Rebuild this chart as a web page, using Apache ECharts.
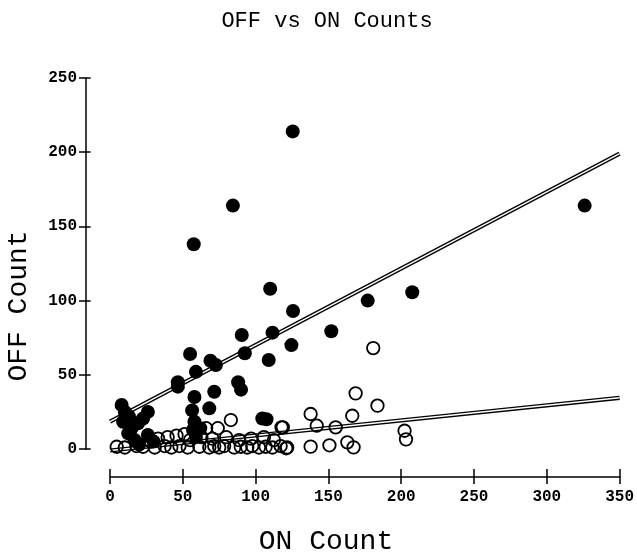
<!DOCTYPE html>
<html>
<head>
<meta charset="utf-8">
<script src="https://cdn.jsdelivr.net/npm/echarts@6/dist/echarts.min.js"></script>
<style>
    html, body {margin: 0; padding: 0; background: #fff;}
    #scatter_main {width: 637px; height: 552px;}
</style>
</head>
<body>
<div id="scatter_main"></div>
<script>
// ON count, OFF count  (filled dots)
var filledPts = [
    [125.5, 214], [84.4, 164], [57.5, 138], [326, 164], [110, 108], [207.6, 105.6],
    [177, 100], [125.7, 93], [152, 79.3], [111.6, 78.4], [90.5, 76.8], [124.6, 70],
    [92.6, 64.5], [55, 64], [109, 60], [69, 59.5], [72.7, 56.6], [59, 52], [88, 45],
    [90, 40], [46.6, 45], [46.6, 42], [71.6, 38.6], [58, 35], [56.4, 26], [68.2, 27.4],
    [58, 18.4], [104.6, 20.6], [107.5, 20], [8, 29.6], [10.2, 25], [26, 25], [22.7, 20.6],
    [19.3, 17.3], [14.8, 14], [12.5, 10.5], [26, 9.4], [17, 6], [9, 18.4], [57, 12.8],
    [59, 8.3], [13, 22], [20, 3], [30, 5], [62, 14]
];
// open circles
var openPts = [
    [180.8, 68], [168.7, 37.5], [183.7, 29.2], [137.8, 23.6], [166.4, 22.4], [142, 15.7],
    [155, 14.6], [118.7, 14.6], [202.3, 12.3], [203.3, 6.5], [121, 0.5], [137.8, 1.6],
    [150.7, 2.5], [163, 4.5], [167.3, 1.1],
    [83, 19.5], [74, 14], [66, 14], [117.8, 14.6],
    [4.6, 1.5], [10.2, 1], [18.2, 2], [22.7, 1.5], [30.7, 1], [37.5, 2], [42.1, 1],
    [47.7, 2], [53.4, 1], [61.4, 1.5], [68.2, 1], [71.6, 2], [75, 1], [78.4, 2],
    [85.3, 1], [89.8, 1.5], [94.3, 1], [97.7, 2], [102.3, 1], [106.9, 1.5], [111.5, 1],
    [117.2, 2], [121.7, 1],
    [39.6, 8], [45.7, 9], [51.2, 10], [62.8, 8], [70.3, 7], [79.8, 8], [88.7, 6],
    [96.9, 7], [105.7, 8], [112.6, 6], [28, 5], [33, 7], [55, 6]
];
// fitted lines, end points
var upperFit = [[0, 18.5], [350, 199]];
var lowerFit = [[0, -1], [350, 34.5]];

var xMax = 350;
var yMax = 250;
var tickStep = 50;

var W = 637, H = 552;
var gridL = 110, gridR = 15, gridT = 78, gridB = 103;
var xOff = 28, yOff = 24;

function tick_style() {
    return {color: '#000', width: 1.5};
}

// main x axis (ticks pointing down)
function make_x() {
    return {
        type: 'value', min: 0, max: xMax, interval: tickStep,
        position: 'bottom', offset: xOff,
        axisLine: {onZero: false, lineStyle: tick_style()},
        axisTick: {inside: false, length: 7, lineStyle: tick_style()},
        axisLabel: {margin: 12, color: '#000', fontFamily: 'Liberation Mono',
            fontWeight: 'bold', fontSize: 16},
        splitLine: {show: false}
    };
}

// a top axis pulled down onto the bottom one, its outward ticks give the upper half of the cross
function make_x_up() {
    var h = H - gridT - gridB;
    return {
        type: 'value', min: 0, max: xMax, interval: tickStep,
        position: 'top', offset: -(h + xOff),
        axisLine: {show: false, onZero: false},
        axisTick: {show: true, inside: false, length: 8, lineStyle: tick_style()},
        axisLabel: {show: false},
        splitLine: {show: false}
    };
}

function make_y() {
    return {
        type: 'value', min: 0, max: yMax, interval: tickStep,
        position: 'left', offset: yOff,
        axisLine: {onZero: false, lineStyle: tick_style()},
        axisTick: {inside: false, length: 7, lineStyle: tick_style()},
        axisLabel: {margin: 9, color: '#000', fontFamily: 'Liberation Mono',
            fontWeight: 'bold', fontSize: 16},
        splitLine: {show: false}
    };
}

// same trick for the right half of the y ticks
function make_y_right() {
    var w = W - gridL - gridR;
    return {
        type: 'value', min: 0, max: yMax, interval: tickStep,
        position: 'right', offset: -(w + yOff),
        axisLine: {show: false, onZero: false},
        axisTick: {show: true, inside: false, length: 7, lineStyle: tick_style()},
        axisLabel: {show: false},
        splitLine: {show: false}
    };
}

function fit_line(pts) {
    return [
        {
            type: 'line', data: pts, symbol: 'none', clip: false, silent: true,
            lineStyle: {color: '#000', width: 4.2}, z: 3
        },
        {
            type: 'line', data: pts, symbol: 'none', clip: false, silent: true,
            lineStyle: {color: '#fff', width: 1.4}, z: 4
        }
    ];
}

var myChart = echarts.init(document.getElementById('scatter_main'));
var option = {
    animation: false,
    backgroundColor: '#fff',
    grid: {left: gridL, right: gridR, top: gridT, bottom: gridB},
    xAxis: [make_x(), make_x_up()],
    yAxis: [make_y(), make_y_right()],
    graphic: [
        {type: 'text', x: 327, y: 21, style: {text: 'OFF vs ON Counts', fill: '#000',
            font: '22px "Liberation Mono"', textAlign: 'center', textVerticalAlign: 'middle'}},
        {type: 'text', x: 326, y: 542, style: {text: 'ON Count', fill: '#000',
            font: '28px "Liberation Mono"', textAlign: 'center', textVerticalAlign: 'middle'}},
        {type: 'text', x: 19, y: 306, rotation: Math.PI / 2, style: {text: 'OFF Count', fill: '#000',
            font: '28px "Liberation Mono"', textAlign: 'center', textVerticalAlign: 'middle'}}
    ],
    series: [].concat(fit_line(upperFit), fit_line(lowerFit), [
        {
            type: 'scatter', data: openPts, symbolSize: 12.5, z: 5,
            itemStyle: {color: 'rgba(0,0,0,0)', borderColor: '#000', borderWidth: 1.8, opacity: 1}
        },
        {
            type: 'scatter', data: filledPts, symbolSize: 14, z: 6,
            itemStyle: {color: '#000', opacity: 1}
        }
    ])
};

myChart.setOption(option);
</script>
</body>
</html>
